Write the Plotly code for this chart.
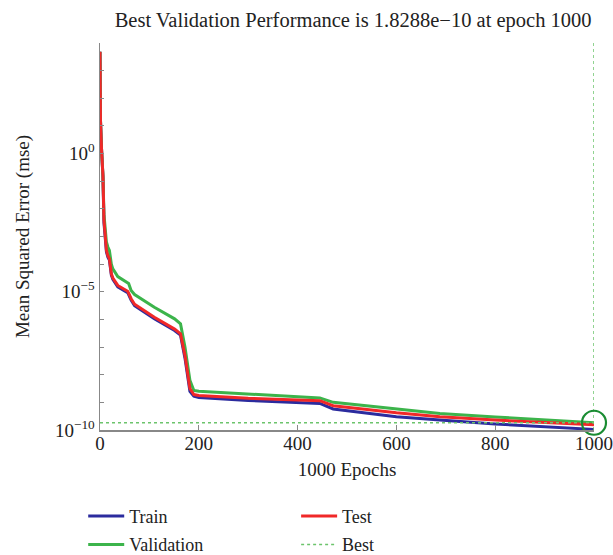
import plotly.graph_objects as go

# ---- data ----
epochs = [0, 1, 3, 6, 8, 13, 16, 19, 23, 26, 36, 56, 58, 63, 70, 110, 151, 163,
          172, 182, 190, 200, 300, 445, 472, 600, 688, 800, 1000]

train = [4.79e3, 1.58e1, 1.58, 1.41e-1, 3.16e-3, 2.82e-4, 1.78e-4, 1.41e-4, 3.98e-5,
         2.82e-5, 1.51e-5, 9.33e-6, 7.94e-6, 5.01e-6, 3.16e-6, 1.07e-6, 3.98e-7, 2.69e-7,
         3.98e-8, 2.51e-9, 1.66e-9, 1.51e-9, 1.17e-9, 9.12e-10, 5.75e-10, 3.02e-10,
         2.29e-10, 1.66e-10, 1.05e-10]

validation = [4.79e3, 1.58e1, 1.58, 1.58e-1, 6.31e-3, 6.31e-4, 4.17e-4, 3.16e-4, 1.0e-4,
              6.76e-5, 3.55e-5, 2.24e-5, 2.0e-5, 1.12e-5, 7.94e-6, 2.75e-6, 1.05e-6, 6.92e-7,
              1.0e-7, 6.31e-9, 2.69e-9, 2.51e-9, 2.0e-9, 1.45e-9, 1.0e-9, 5.62e-10,
              3.98e-10, 2.95e-10, 1.8288e-10]

test = [4.79e3, 1.58e1, 1.58, 1.58e-1, 3.98e-3, 3.16e-4, 2.0e-4, 1.58e-4, 4.47e-5,
        3.16e-5, 1.70e-5, 1.05e-5, 8.91e-6, 5.62e-6, 3.55e-6, 1.20e-6, 4.47e-7, 3.02e-7,
        5.01e-8, 3.16e-9, 1.91e-9, 1.78e-9, 1.41e-9, 1.15e-9, 7.59e-10, 4.17e-10,
        3.02e-10, 2.29e-10, 1.55e-10]

best_epoch = 1000
best_perf = 1.8288e-10

x_ticks = [0, 200, 400, 600, 800, 1000]
y_decades = list(range(-10, 5))
y_labeled = {0: "10<sup>0</sup>", -5: "10<sup>−5</sup>", -10: "10<sup>−10</sup>"}
y_min, y_max = 1e-10, 1e4

FONT = "Liberation Serif"
C_TRAIN = "#2b2b9e"
C_VAL = "#3cb44b"
C_TEST = "#f02828"
C_BEST = "#6cc46c"
C_CIRCLE = "#1a8c32"
TXT = "#222"

fig = go.Figure()

fig.add_trace(go.Scatter(x=epochs, y=train, mode="lines", name="Train",
                         line=dict(color=C_TRAIN, width=3), legend="legend",
                         legendgroup="a", legendrank=1))
fig.add_trace(go.Scatter(x=epochs, y=validation, mode="lines", name="Validation",
                         line=dict(color=C_VAL, width=3), legend="legend",
                         legendgroup="b", legendrank=2))
fig.add_trace(go.Scatter(x=epochs, y=test, mode="lines", name="Test",
                         line=dict(color=C_TEST, width=3), legend="legend2",
                         legendgroup="c", legendrank=1))
fig.add_trace(go.Scatter(x=[0, best_epoch, None, best_epoch, best_epoch],
                         y=[best_perf, best_perf, None, y_min, y_max],
                         mode="lines", name="Best",
                         line=dict(color=C_BEST, width=1.5, dash="dot"),
                         legend="legend2", legendgroup="d", legendrank=2))
fig.add_trace(go.Scatter(x=[best_epoch], y=[best_perf], mode="markers",
                         showlegend=False, cliponaxis=False,
                         marker=dict(symbol="circle-open", size=24,
                                     line=dict(color=C_CIRCLE, width=2.2),
                                     color=C_CIRCLE)))

fig.update_layout(
    width=613, height=555,
    margin=dict(l=100, r=19, t=43, b=125, autoexpand=False),
    paper_bgcolor="white", plot_bgcolor="white",
    font=dict(family=FONT, size=19, color=TXT),
    hovermode=False,
    title=dict(text="Best Validation Performance is 1.8288e−10 at epoch 1000",
               x=0.576, xref="container", xanchor="center",
               y=0.964, yref="container", yanchor="middle",
               font=dict(family=FONT, size=20.5, color=TXT)),
    xaxis=dict(range=[0, 1000], tickvals=x_ticks, ticks="inside", ticklen=5,
               tickcolor="#888", showline=True, linecolor="#888", linewidth=1.5,
               showgrid=False, zeroline=False, tickfont=dict(size=19),
               tickangle=0, automargin=False, ticklabelstandoff=-4,
               title=dict(text="1000 Epochs", standoff=9,
                          font=dict(family=FONT, size=19))),
    yaxis=dict(type="log", range=[-10, 4],
               tickvals=[10.0 ** d for d in y_decades],
               ticktext=[y_labeled.get(d, "") for d in y_decades],
               ticks="inside", ticklen=4, tickcolor="#888",
               showline=True, linecolor="#888", linewidth=1.5,
               showgrid=False, zeroline=False, tickfont=dict(size=19),
               automargin=False,
               title=dict(text="Mean Squared Error (mse)", standoff=20,
                          font=dict(family=FONT, size=19))),
    legend=dict(x=-0.034, xref="paper", y=0.103, yref="container",
                xanchor="left", yanchor="top", itemwidth=36,
                orientation="v", tracegroupgap=2, bgcolor="rgba(0,0,0,0)",
                font=dict(family=FONT, size=18)),
    legend2=dict(x=0.397, xref="paper", y=0.103, yref="container",
                 xanchor="left", yanchor="top", itemwidth=36,
                 orientation="v", tracegroupgap=2, bgcolor="rgba(0,0,0,0)",
                 font=dict(family=FONT, size=18)),
    showlegend=True,
)

# remove the default page margin so the figure fills the window exactly
page_fix = ("document.body.style.margin='0';"
            "document.body.style.overflow='hidden';"
            "document.documentElement.style.overflow='hidden';")

fig.write_html("out.html", post_script=page_fix,
               config={"displayModeBar": False, "staticPlot": True})
